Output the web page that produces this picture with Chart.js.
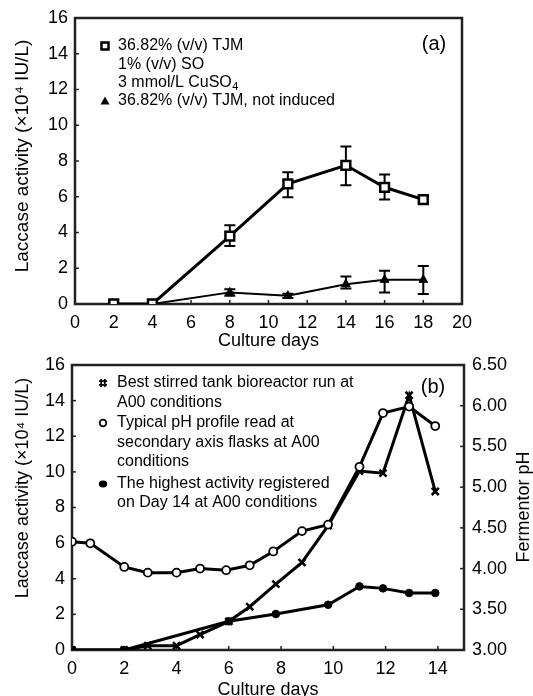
<!DOCTYPE html>
<html>
<head>
<meta charset="utf-8">
<script src="https://cdn.jsdelivr.net/npm/chart.js@4.4.1/dist/chart.umd.min.js"></script>
<style>
  html, body { margin: 0; padding: 0; background: #fff; overflow: hidden; width: 533px; height: 696px; }
  #wrapA { position: absolute; left: 0; top: 0; width: 533px; height: 356px; }
  #wrapB { position: absolute; left: 0; top: 340px; width: 533px; height: 370px; }
</style>
</head>
<body>
<div id="wrapA"><canvas id="chartA" width="533" height="356"></canvas></div>
<div id="wrapB"><canvas id="chartB" width="533" height="370"></canvas></div>
<script>
// ---- (a) flask cultures ----
const daysA = [2, 4, 8, 11, 14, 16, 18];
const inducedAct = [0, 0, 3.8, 6.72, 7.76, 6.53, 5.84];
const inducedLo = [0, 0, 3.25, 5.97, 6.64, 5.84, 5.66];
const inducedHi = [0, 0, 4.4, 7.37, 8.81, 7.24, 6.07];
const plainAct = [0, 0, 0.65, 0.46, 1.11, 1.35, 1.35];
const plainLo = [0, 0, 0.46, 0.33, 0.87, 0.65, 0.56];
const plainHi = [0, 0, 0.83, 0.58, 1.54, 1.86, 2.13];

// ---- (b) bioreactor run ----
const daysRun = [0, 2, 2.9, 4, 4.9, 6, 6.8, 7.8, 8.8, 9.8, 11, 11.9, 12.9, 13.9];
const runAct = [0, 0, 0.24, 0.24, 0.86, 1.61, 2.43, 3.7, 4.92, 6.98, 10.05, 9.93, 14.3, 8.9];
const daysPH = [0, 0.7, 2, 2.9, 4, 4.9, 5.9, 6.8, 7.7, 8.8, 9.8, 11, 11.9, 12.9, 13.9];
const flaskPH = [4.33, 4.31, 4.02, 3.95, 3.95, 4.0, 3.98, 4.04, 4.21, 4.46, 4.54, 5.25, 5.91, 5.99, 5.75];
const daysBest = [0, 2, 6, 7.8, 9.8, 11, 11.9, 12.9, 13.9];
const bestAct = [0, 0, 1.61, 2.02, 2.54, 3.57, 3.46, 3.2, 3.2];
const dayTicksB = [0, 2, 4, 6, 8, 10, 12, 14];

const FONT = '"Liberation Sans", Arial, sans-serif';
Chart.defaults.font.family = FONT;
Chart.defaults.color = '#000';

const pts = (xs, ys) => xs.map((x, i) => ({x: x, y: ys[i]}));

// box round the plot + small inward tick marks
const framePlugin = {
  id: 'frame',
  beforeDatasetsDraw(chart) {
    const {ctx, chartArea: a} = chart;
    ctx.save();
    ctx.strokeStyle = '#222';
    ctx.lineWidth = 1.5;
    Object.values(chart.scales).forEach(s => {
      s.ticks.forEach(t => {
        const p = s.getPixelForValue(t.value);
        ctx.beginPath();
        if (s.axis === 'x') { ctx.moveTo(p, a.bottom); ctx.lineTo(p, a.bottom - 4); }
        else if (s.position === 'left') { ctx.moveTo(a.left, p); ctx.lineTo(a.left + 4, p); }
        else { ctx.moveTo(a.right, p); ctx.lineTo(a.right - 4, p); }
        ctx.stroke();
      });
    });
    ctx.lineWidth = 2.5;
    ctx.strokeRect(a.left, a.top, a.right - a.left, a.bottom - a.top);
    ctx.restore();
  }
};

const errorBarPlugin = {
  id: 'errorBars',
  beforeDatasetsDraw(chart) {
    const {ctx} = chart;
    const xs = chart.scales.x, ys = chart.scales.y;
    ctx.save();
    ctx.strokeStyle = '#000';
    ctx.lineWidth = 2;
    chart.data.datasets.forEach(ds => {
      if (!ds.errLo) return;
      ds.data.forEach((pt, i) => {
        const lo = ds.errLo[i], hi = ds.errHi[i];
        if (hi - lo <= 0) return;
        const px = xs.getPixelForValue(pt.x);
        const y1 = ys.getPixelForValue(lo), y2 = ys.getPixelForValue(hi);
        ctx.beginPath();
        ctx.moveTo(px, y1); ctx.lineTo(px, y2);
        ctx.moveTo(px - 5.5, y1); ctx.lineTo(px + 5.5, y1);
        ctx.moveTo(px - 5.5, y2); ctx.lineTo(px + 5.5, y2);
        ctx.stroke();
      });
    });
    ctx.restore();
  }
};

// legend markers
function mark(ctx, kind, x, y) {
  ctx.save();
  ctx.strokeStyle = '#000';
  ctx.fillStyle = '#000';
  ctx.beginPath();
  if (kind === 'square') {
    ctx.lineWidth = 2.5;
    ctx.fillStyle = '#fff';
    ctx.rect(x - 3.5, y - 3.5, 7, 7);
    ctx.fill(); ctx.stroke();
  } else if (kind === 'triangle') {
    ctx.moveTo(x, y - 4.5); ctx.lineTo(x + 4.5, y + 3.5); ctx.lineTo(x - 4.5, y + 3.5);
    ctx.closePath(); ctx.fill();
  } else if (kind === 'hash') {
    ctx.lineWidth = 1.8;
    ctx.moveTo(x - 1.8, y - 4); ctx.lineTo(x - 1.8, y + 4);
    ctx.moveTo(x + 1.8, y - 4); ctx.lineTo(x + 1.8, y + 4);
    ctx.moveTo(x - 4, y - 1.8); ctx.lineTo(x + 4, y - 1.8);
    ctx.moveTo(x - 4, y + 1.8); ctx.lineTo(x + 4, y + 1.8);
    ctx.stroke();
  } else if (kind === 'circle') {
    ctx.lineWidth = 1.8;
    ctx.fillStyle = '#fff';
    ctx.arc(x, y, 3.3, 0, Math.PI * 2);
    ctx.fill(); ctx.stroke();
  } else if (kind === 'dot') {
    ctx.ellipse(x, y, 4.2, 3.4, 0, 0, Math.PI * 2);
    ctx.fill();
  }
  ctx.restore();
}

// legend text, panel letter and vertical titles (drawn as canvas text)
const notesPlugin = {
  id: 'notes',
  afterDraw(chart, args, opts) {
    const {ctx} = chart;
    ctx.save();
    ctx.fillStyle = '#000';
    ctx.textBaseline = 'middle';
    ctx.textAlign = 'left';
    ctx.font = '16px ' + FONT;
    (opts.markers || []).forEach(m => mark(ctx, m[0], m[1], m[2]));
    (opts.lines || []).forEach(l => {
      ctx.font = '16px ' + FONT;
      ctx.fillText(l[0], l[1], l[2]);
      if (l[3]) {
        const w = ctx.measureText(l[0]).width;
        ctx.font = '11px ' + FONT;
        ctx.fillText(l[3], l[1] + w + 0.5, l[2] + 4);
      }
    });
    if (opts.panel) {
      ctx.font = '20px ' + FONT;
      ctx.textAlign = 'center';
      ctx.fillText(opts.panel[0], opts.panel[1], opts.panel[2]);
    }
    ctx.textAlign = 'center';
    (opts.vtitles || []).forEach(t => {
      ctx.save();
      ctx.font = (t[3] || 18) + 'px ' + FONT;
      ctx.translate(t[1], t[2]);
      ctx.rotate(-Math.PI / 2);
      ctx.fillText(t[0], 0, 0);
      ctx.restore();
    });
    ctx.restore();
  }
};

const tickFont = {size: 18};

new Chart(document.getElementById('chartA'), {
  type: 'line',
  data: {
    datasets: [
      { label: '36.82% (v/v) TJM, 1% (v/v) SO, 3 mmol/L CuSO4', data: pts(daysA, inducedAct),
        errLo: inducedLo, errHi: inducedHi,
        borderColor: '#000', borderWidth: 3, tension: 0,
        pointStyle: 'rect', pointRadius: 6.2, pointBackgroundColor: '#fff',
        pointBorderColor: '#000', pointBorderWidth: 2.5 },
      { label: '36.82% (v/v) TJM, not induced', data: pts(daysA, plainAct),
        errLo: plainLo, errHi: plainHi,
        borderColor: '#000', borderWidth: 2, tension: 0,
        pointStyle: 'triangle', pointRadius: 5, pointBackgroundColor: '#000',
        pointBorderColor: '#000', pointBorderWidth: 1 }
    ]
  },
  options: {
    responsive: false,
    animation: false,
    events: [],
    layout: { padding: { top: 18, right: 71, left: 0, bottom: 0 } },
    plugins: {
      legend: { display: false },
      tooltip: { enabled: false },
      notes: {
        markers: [['square', 105, 46], ['triangle', 105, 101]],
        lines: [
          ['36.82% (v/v) TJM', 118, 46],
          ['1% (v/v) SO', 118, 64.5],
          ['3 mmol/L CuSO', 118, 83, '4'],
          ['36.82% (v/v) TJM, not induced', 118, 101]
        ],
        panel: ['(a)', 434, 44],
        vtitles: [['Laccase activity (\u00d710\u2074 IU/L)', 23, 156, 19]]
      }
    },
    scales: {
      x: {
        type: 'linear', min: 0, max: 20,
        ticks: { stepSize: 2, font: tickFont, padding: 8, maxRotation: 0, autoSkip: false },
        grid: { display: false, drawTicks: false }, border: { display: false },
        title: { display: true, text: 'Culture days', font: { size: 18 }, padding: { top: 0, bottom: 4 } },
        afterFit: s => { s.height = 52; }
      },
      y: {
        min: 0, max: 16,
        ticks: { stepSize: 2, font: tickFont, padding: 7 },
        grid: { display: false, drawTicks: false }, border: { display: false },
        afterFit: s => { s.width = 75; }
      }
    }
  },
  plugins: [framePlugin, errorBarPlugin, notesPlugin]
});

new Chart(document.getElementById('chartB'), {
  type: 'line',
  data: {
    datasets: [
      { label: 'Typical pH profile', data: pts(daysPH, flaskPH), yAxisID: 'y2',
        borderColor: '#000', borderWidth: 3, tension: 0,
        pointStyle: 'circle', pointRadius: 4, pointBackgroundColor: '#fff',
        pointBorderColor: '#000', pointBorderWidth: 1.8 },
      { label: 'Best stirred tank bioreactor run', data: pts(daysRun, runAct), yAxisID: 'y',
        borderColor: '#000', borderWidth: 3, tension: 0,
        pointStyle: 'crossRot', pointRadius: 5, pointBorderColor: '#000', pointBorderWidth: 2.5 },
      { label: 'Highest activity on Day 14', data: pts(daysBest, bestAct), yAxisID: 'y',
        borderColor: '#000', borderWidth: 3, tension: 0,
        pointStyle: 'circle', pointRadius: 3.8, pointBackgroundColor: '#000',
        pointBorderColor: '#000', pointBorderWidth: 1 }
    ]
  },
  options: {
    responsive: false,
    animation: false,
    events: [],
    layout: { padding: { top: 25, right: 0, left: 0, bottom: 0 } },
    plugins: {
      legend: { display: false },
      tooltip: { enabled: false },
      notes: {
        markers: [['hash', 103, 43], ['circle', 103, 83], ['dot', 103, 144]],
        lines: [
          ['Best stirred tank bioreactor run at', 117, 43],
          ['A00 conditions', 117, 63],
          ['Typical pH profile read at', 117, 83],
          ['secondary axis flasks at A00', 117, 103],
          ['conditions', 117, 122],
          ['The highest activity registered', 117, 144],
          ['on Day 14 at A00 conditions', 117, 163]
        ],
        panel: ['(b)', 433, 47],
        vtitles: [
          ['Laccase activity (\u00d710\u2074 IU/L)', 23, 148, 18],
          ['Fermentor pH', 524, 167, 18]
        ]
      }
    },
    scales: {
      x: {
        type: 'linear', min: 0, max: 15,
        ticks: { font: tickFont, padding: 8, maxRotation: 0, autoSkip: false },
        afterBuildTicks: s => { s.ticks = dayTicksB.map(v => ({ value: v })); },
        grid: { display: false, drawTicks: false }, border: { display: false },
        title: { display: true, text: 'Culture days', font: { size: 18 }, padding: { top: 0, bottom: 9 } },
        afterFit: s => { s.height = 60; }
      },
      y: {
        position: 'left', min: 0, max: 16,
        ticks: { stepSize: 2, font: tickFont, padding: 7 },
        grid: { display: false, drawTicks: false }, border: { display: false },
        afterFit: s => { s.width = 72; }
      },
      y2: {
        position: 'right', min: 3, max: 6.5,
        ticks: { stepSize: 0.5, font: tickFont, padding: 8, callback: v => v.toFixed(2) },
        grid: { display: false, drawTicks: false }, border: { display: false },
        afterFit: s => { s.width = 69; }
      }
    }
  },
  plugins: [framePlugin, notesPlugin]
});
</script>
</body>
</html>
